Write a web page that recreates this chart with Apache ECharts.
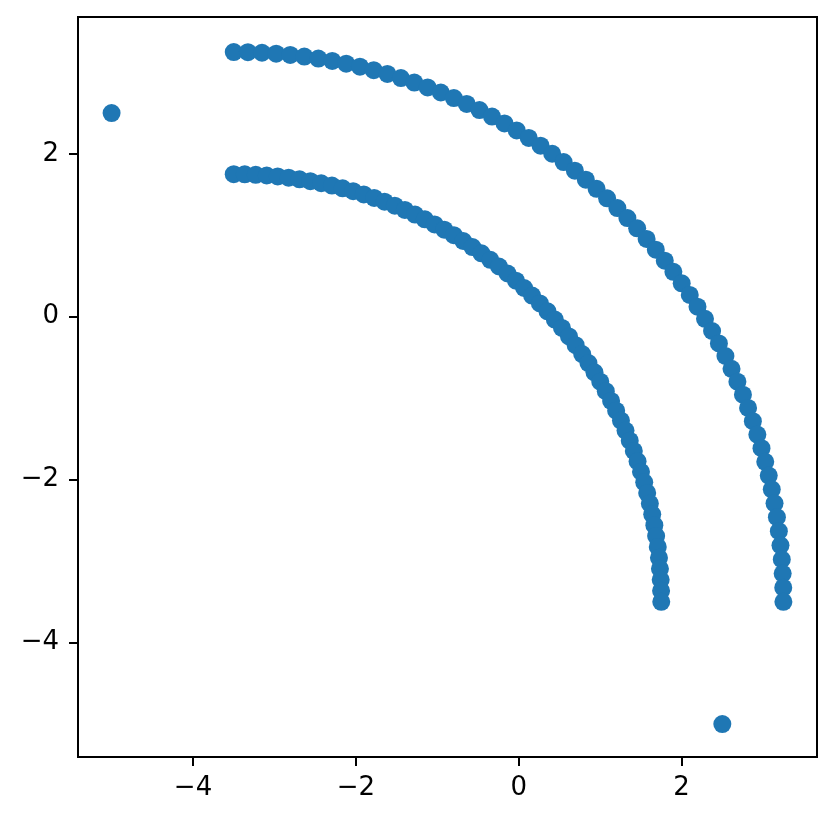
<!DOCTYPE html>
<html>
<head>
<meta charset="utf-8">
<script src="https://cdn.jsdelivr.net/npm/echarts@6/dist/echarts.min.js"></script>
<style>
html,body{margin:0;padding:0;background:#fff;}
#chart{width:836px;height:822px;}
</style>
</head>
<body>
<div id="chart"></div>
<script>
const outerX = [-3.5,-3.326,-3.153,-2.979,-2.806,-2.633,-2.461,-2.29,-2.119,-1.95,-1.781,-1.613,-1.447,-1.282,-1.119,-0.957,-0.797,-0.639,-0.482,-0.328,-0.175,-0.025,0.123,0.268,0.411,0.551,0.689,0.824,0.956,1.085,1.211,1.334,1.454,1.57,1.683,1.793,1.899,2.001,2.1,2.195,2.287,2.374,2.458,2.538,2.613,2.685,2.753,2.816,2.875,2.93,2.981,3.027,3.07,3.107,3.141,3.17,3.194,3.214,3.23,3.241,3.248,3.25];
const outerY = [3.25,3.248,3.241,3.23,3.214,3.194,3.17,3.141,3.107,3.07,3.027,2.981,2.93,2.875,2.816,2.753,2.685,2.613,2.538,2.458,2.374,2.287,2.195,2.1,2.001,1.899,1.793,1.683,1.57,1.454,1.334,1.211,1.085,0.956,0.824,0.689,0.551,0.411,0.268,0.123,-0.025,-0.175,-0.328,-0.482,-0.639,-0.797,-0.957,-1.119,-1.282,-1.447,-1.613,-1.781,-1.95,-2.119,-2.29,-2.461,-2.633,-2.806,-2.979,-3.153,-3.326,-3.5];
const innerX = [-3.5,-3.365,-3.23,-3.095,-2.96,-2.826,-2.692,-2.559,-2.426,-2.294,-2.163,-2.033,-1.903,-1.775,-1.648,-1.522,-1.398,-1.274,-1.153,-1.033,-0.914,-0.797,-0.682,-0.569,-0.458,-0.349,-0.242,-0.137,-0.034,0.066,0.164,0.26,0.353,0.443,0.531,0.617,0.699,0.779,0.856,0.93,1.001,1.069,1.134,1.196,1.255,1.311,1.363,1.413,1.459,1.501,1.541,1.577,1.61,1.639,1.665,1.687,1.707,1.722,1.734,1.743,1.748,1.75];
const innerY = [1.75,1.748,1.743,1.734,1.722,1.707,1.687,1.665,1.639,1.61,1.577,1.541,1.501,1.459,1.413,1.363,1.311,1.255,1.196,1.134,1.069,1.001,0.93,0.856,0.779,0.699,0.617,0.531,0.443,0.353,0.26,0.164,0.066,-0.034,-0.137,-0.242,-0.349,-0.458,-0.569,-0.682,-0.797,-0.914,-1.033,-1.153,-1.274,-1.398,-1.522,-1.648,-1.775,-1.903,-2.033,-2.163,-2.294,-2.426,-2.559,-2.692,-2.826,-2.96,-3.095,-3.23,-3.365,-3.5];
const extraX = [-5, 2.5];
const extraY = [2.5, -5];
const xTicks = [-4, -2, 0, 2];
const yTicks = [-4, -2, 0, 2];
const xRange = [-5.4125, 3.6625];
const yRange = [-5.405, 3.68];

function pairs(xs, ys) { return xs.map((x, i) => [x, ys[i]]); }
const allPoints = pairs(extraX, extraY).concat(pairs(outerX, outerY), pairs(innerX, innerY));

const fmt = v => String(v).replace('-', '\u2212');
const font = 'DejaVu Sans';

const chart = echarts.init(document.getElementById('chart'), null, {renderer: 'canvas'});
chart.setOption({
  animation: false,
  backgroundColor: '#ffffff',
  grid: {left: 78, top: 17, width: 739, height: 740, show: true, borderColor: '#000', borderWidth: 2, backgroundColor: 'transparent'},
  xAxis: {
    type: 'value', min: xRange[0], max: xRange[1],
    axisLine: {show: true, onZero: false, lineStyle: {color: '#000', width: 2}},
    splitLine: {show: false},
    axisTick: {show: true, customValues: xTicks, length: 9, lineStyle: {color: '#000', width: 2}},
    axisLabel: {show: true, customValues: xTicks, formatter: fmt, margin: 18, fontSize: 26, fontFamily: font, color: '#000'}
  },
  yAxis: {
    type: 'value', min: yRange[0], max: yRange[1],
    axisLine: {show: true, onZero: false, lineStyle: {color: '#000', width: 2}},
    splitLine: {show: false},
    axisTick: {show: true, customValues: yTicks, length: 9, lineStyle: {color: '#000', width: 2}},
    axisLabel: {show: true, customValues: yTicks, formatter: fmt, margin: 19, fontSize: 26, fontFamily: font, color: '#000'}
  },
  series: [{
    type: 'scatter',
    data: allPoints,
    symbol: 'circle',
    symbolSize: 18,
    itemStyle: {color: '#1f77b4', opacity: 1},
    emphasis: {disabled: true}
  }]
});
</script>
</body>
</html>
